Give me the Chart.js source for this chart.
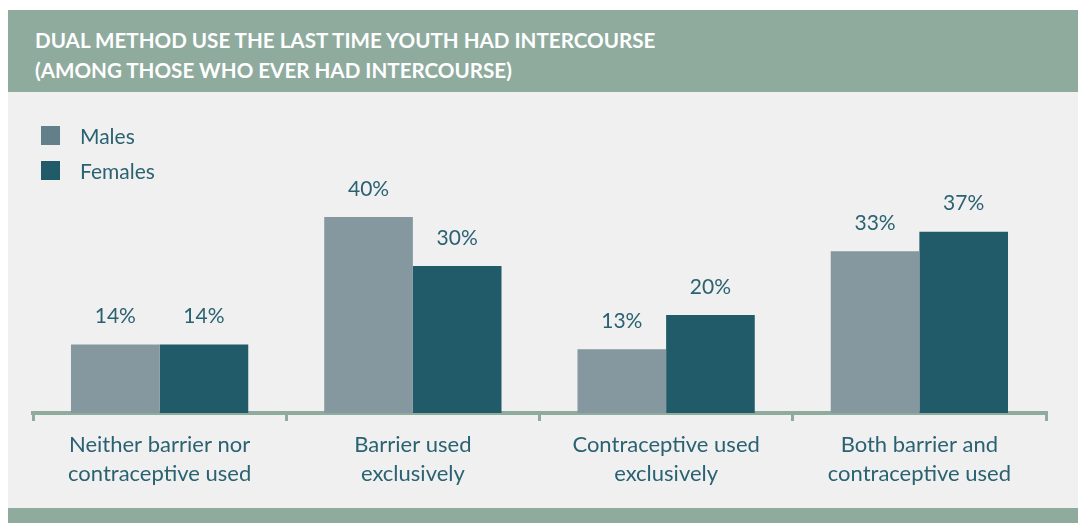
<!doctype html>
<html lang="en">

<head>
    <meta charset="utf-8">
    <title>Dual method use</title>
    <style>
        body {
            margin: 0;
            background: #ffffff;
            font-family: Lato, "Open Sans", sans-serif;
        }

        #header {
            position: absolute;
            left: 8px;
            top: 10px;
            width: 1070px;
            height: 82px;
            background: #8eab9e;
            color: #ffffff;
            font-weight: bold;
            font-size: 20.6px;
            line-height: 30px;
            box-sizing: border-box;
            padding: 15px 0 0 27px;
        }

        #panel {
            position: absolute;
            left: 8px;
            top: 92px;
            width: 1070px;
            height: 416px;
            background: #f0f0f0;
        }

        #footer {
            position: absolute;
            left: 8px;
            top: 508px;
            width: 1070px;
            height: 15px;
            background: #8eab9e;
        }

        #legend {
            position: absolute;
            left: 33px;
            top: 26px;
            font-size: 21px;
            color: #2a6272;
        }

        .item {
            display: flex;
            align-items: center;
            height: 35px;
        }

        .swatch {
            width: 19px;
            height: 19px;
            margin-right: 20px;
        }
    </style>
</head>

<body>
    <div id="header">DUAL METHOD USE THE LAST TIME YOUTH HAD INTERCOURSE<br>(AMONG THOSE WHO EVER HAD INTERCOURSE)</div>
    <div id="panel">
        <canvas id="myChart" width="1070" height="416"></canvas>
        <div id="legend"></div>
    </div>
    <div id="footer"></div>

    <script src="https://cdn.jsdelivr.net/npm/chart.js@4.4.0/dist/chart.umd.min.js"></script>
    <script>
        const categories = [
            ["Neither barrier nor", "contraceptive used"],
            ["Barrier used", "exclusively"],
            ["Contraceptive used", "exclusively"],
            ["Both barrier and", "contraceptive used"]
        ];
        const seriesNames = ["Males", "Females"];
        const males = [14, 40, 13, 33];
        const females = [14, 30, 20, 37];

        const barColors = ["#85979f", "#215b69"];
        const legendColors = ["#627f8a", "#215b69"];
        const textColor = "#2a6272";

        // legend
        const legend = document.getElementById("legend");
        seriesNames.forEach((name, i) => {
            const item = document.createElement("div");
            item.className = "item";
            item.innerHTML = '<div class="swatch" style="background:' + legendColors[i] + '"></div>' + name;
            legend.appendChild(item);
        });

        // value labels above each bar
        const valueLabels = {
            id: "valueLabels",
            afterDatasetsDraw(chart) {
                const ctx = chart.ctx;
                ctx.save();
                ctx.font = "21px Lato";
                ctx.fillStyle = textColor;
                ctx.textAlign = "center";
                ctx.textBaseline = "middle";
                chart.data.datasets.forEach((ds, i) => {
                    chart.getDatasetMeta(i).data.forEach((bar, j) => {
                        ctx.fillText(ds.data[j] + "%", bar.x, bar.y - 28);
                    });
                });
                ctx.restore();
            }
        };

        new Chart(document.getElementById("myChart"), {
            type: "bar",
            data: {
                labels: categories,
                datasets: [
                    { label: seriesNames[0], data: males, backgroundColor: barColors[0] },
                    { label: seriesNames[1], data: females, backgroundColor: barColors[1] }
                ]
            },
            options: {
                responsive: false,
                animation: false,
                categoryPercentage: 0.7,
                barPercentage: 1.0,
                layout: {
                    padding: { left: 25, right: 32, top: 76, bottom: 0 }
                },
                plugins: {
                    legend: { display: false },
                    tooltip: { enabled: false }
                },
                scales: {
                    y: {
                        display: false,
                        min: 0,
                        max: 50
                    },
                    x: {
                        afterFit(scale) { scale.height = 95; },
                        border: { display: true, color: "#8eab9e", width: 4 },
                        grid: {
                            display: true,
                            drawOnChartArea: false,
                            drawTicks: true,
                            tickLength: 8,
                            color: "#8eab9e",
                            lineWidth: 3
                        },
                        ticks: {
                            color: textColor,
                            padding: 10,
                            font: { family: "Lato", size: 22, lineHeight: 1.3 }
                        }
                    }
                }
            },
            plugins: [valueLabels]
        });
    </script>
</body>

</html>
